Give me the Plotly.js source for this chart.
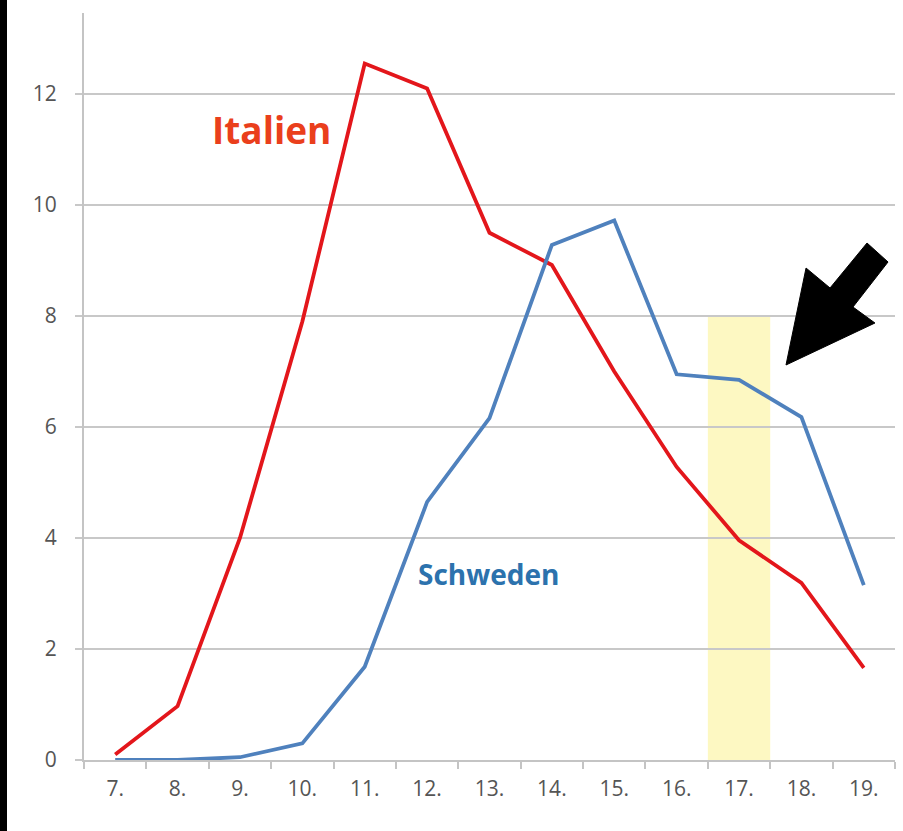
<!DOCTYPE html>
<html>
<head>
<meta charset="utf-8">
<script src="https://cdn.plot.ly/plotly-3.0.1.min.js"></script>
<style>
  html, body { margin: 0; padding: 0; background: #ffffff; }
  #strip { position: absolute; left: 0; top: 0; width: 7px; height: 831px; background: #000; }
  #chart { position: absolute; left: 0; top: 0; width: 903px; height: 831px; }
</style>
</head>
<body>
<div id="chart"></div>
<div id="strip"></div>
<script>
// Data
const days = ["7.", "8.", "9.", "10.", "11.", "12.", "13.", "14.", "15.", "16.", "17.", "18.", "19."];
const italien = [0.1, 0.97, 4.0, 7.9, 12.55, 12.1, 9.5, 8.92, 7.0, 5.28, 3.96, 3.19, 1.66];
const schweden = [0.0, 0.0, 0.05, 0.3, 1.68, 4.65, 6.16, 9.28, 9.72, 6.95, 6.85, 6.18, 3.15];
const yTicks = [0, 2, 4, 6, 8, 10, 12];
const highlightDay = "17.";
const highlightTop = 8;

// Layout geometry (pixels)
const W = 903, H = 831;
const M = { l: 84, r: 8, t: 13, b: 71 };
const pw = W - M.l - M.r, ph = H - M.t - M.b;
const px = x => (x - M.l) / pw;
const py = y => (H - M.b - y) / ph;

const hi = days.indexOf(highlightDay);

const arrowPts = [[786,365],[806,268],[830,288],[867,243],[888,262],[853,307],[875,323]];
const arrowPath = 'M ' + arrowPts.map(p => px(p[0]).toFixed(4) + ',' + py(p[1]).toFixed(4)).join(' L ') + ' Z';

const traces = [
  { x: days, y: italien, type: 'scatter', mode: 'lines', name: 'Italien',
    line: { color: '#e3161b', width: 3.8 }, hoverinfo: 'skip' },
  { x: days, y: schweden, type: 'scatter', mode: 'lines', name: 'Schweden',
    line: { color: '#4f81bd', width: 3.8 }, hoverinfo: 'skip' }
];

const layout = {
  width: W, height: H,
  margin: M,
  paper_bgcolor: '#ffffff',
  plot_bgcolor: '#ffffff',
  showlegend: false,
  font: { family: 'Open Sans, sans-serif', color: '#555555', size: 21 },
  xaxis: {
    type: 'category',
    range: [-0.5, days.length - 0.5],
    showgrid: false,
    showline: true, linecolor: '#c4c4c4', linewidth: 2,
    ticks: 'outside', tickson: 'boundaries', ticklen: 7, tickcolor: '#c4c4c4', tickwidth: 2,
    ticklabelstandoff: 9,
    tickfont: { size: 21, color: '#555555' },
    zeroline: false, fixedrange: true
  },
  yaxis: {
    range: [0, 13.46],
    tickvals: yTicks,
    showgrid: true, gridcolor: '#c8c8c8', gridwidth: 2,
    showline: true, linecolor: '#c4c4c4', linewidth: 2,
    ticks: 'outside', ticklen: 7, tickcolor: '#c8c8c8', tickwidth: 2,
    ticklabelstandoff: 14,
    tickfont: { size: 21, color: '#555555' },
    zeroline: false, fixedrange: true
  },
  shapes: [
    { type: 'rect', xref: 'x', yref: 'y', x0: hi - 0.5, x1: hi + 0.5, y0: 0, y1: highlightTop,
      fillcolor: '#fdf8c2', line: { width: 0 }, layer: 'below' },
    { type: 'path', xref: 'paper', yref: 'paper', path: arrowPath,
      fillcolor: '#000000', line: { color: '#000000', width: 1 }, layer: 'above' }
  ],
  annotations: [
    { xref: 'paper', yref: 'paper', x: px(271), y: py(129), xanchor: 'center', yanchor: 'middle',
      text: '<b>Italien</b>', showarrow: false,
      font: { family: 'Open Sans, sans-serif', size: 37, color: '#ea3f1c' } },
    { xref: 'paper', yref: 'paper', x: px(488), y: py(574), xanchor: 'center', yanchor: 'middle',
      text: '<b>Schweden</b>', showarrow: false,
      font: { family: 'Open Sans, sans-serif', size: 28, color: '#2c72ad' } }
  ]
};

Plotly.newPlot('chart', traces, layout, { staticPlot: true, displayModeBar: false });
</script>
</body>
</html>
